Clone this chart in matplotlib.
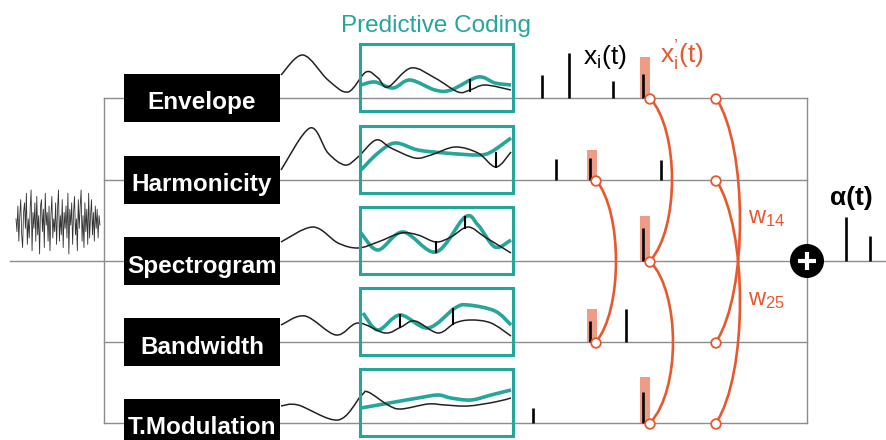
import matplotlib
matplotlib.use('Agg')
import matplotlib.pyplot as plt
import matplotlib.patches as mpatches
from matplotlib.path import Path
import numpy as np

plt.rcParams['font.family'] = ['Liberation Sans', 'DejaVu Sans']
plt.rcParams['mathtext.fontset'] = 'custom'
plt.rcParams['mathtext.rm'] = 'Liberation Sans'

TEAL = '#26a69a'
ORANGE = '#e8582e'
SALMON = '#ef9c86'
GREY = '#8c8c8c'

features = ['Envelope', 'Harmonicity', 'Spectrogram', 'Bandwidth', 'T.Modulation']
row_y = [98, 180, 261, 342, 423]

# raw sound snippet on the left
noise = [0.1, -0.3, 0.5, -0.6, 0.2, 0.7, -0.4, -0.8, 0.3, 0.6, -0.2, 0.9, -0.7, 0.1,
         -0.5, 0.4, 1.0, -0.9, 0.3, -0.2, 0.6, -0.6, 0.8, -0.4, 0.2, -1.0, 0.5, 0.7,
         -0.3, 0.4, -0.8, 0.9, -0.1, 0.3, -0.6, 0.5, -0.9, 0.2, 0.8, -0.5, 0.1, -0.3,
         0.6, -0.7, 0.4, 1.0, -0.6, 0.2, -0.4, 0.7, -0.8, 0.3, -0.2, 0.5, -0.5, 0.9,
         -1.0, 0.4, -0.1, 0.6, -0.7, 0.3, 0.8, -0.4, 0.1, -0.9, 0.7, -0.2, 0.5, 1.0,
         -0.6, 0.2, -0.8, 0.6, -0.3, 0.4, -0.7, 0.9, -0.5, 0.2, 0.7, -0.4, 0.3, -0.6,
         0.5, -0.2, 0.4, -0.5, 0.2, -0.1]

# feature traces: (x, height above the row line)
trace_black = [
    [(281, -23), (303, -43), (328, -18), (348, -6), (366, -26), (378, -20), (388, -11),
     (411, -30), (435, -20), (458, -6), (470, -8), (485, -13), (511, -8)],
    [(281, -10), (310, -52), (328, -27), (345, -15), (358, -23), (376, -40), (391, -32),
     (415, -22), (431, -25), (455, -33), (478, -27), (496, -13), (511, -28)],
    [(281, -19), (313, -34), (338, -18), (358, -13), (378, -19), (401, -28), (418, -26),
     (436, -19), (451, -24), (468, -34), (485, -24), (511, -8)],
    [(281, -17), (305, -26), (336, -7), (358, -19), (385, -9), (401, -15), (415, -21),
     (438, -9), (455, -19), (471, -22), (491, -19), (511, -6)],
    [(281, -17), (298, -18), (338, -3), (361, -27), (368, -31), (388, -18), (401, -14),
     (428, -19), (445, -18), (468, -17), (495, -21), (511, -25)],
]
trace_teal = [
    [(361, -13), (375, -16), (393, -10), (410, -18), (435, -8), (451, -8), (478, -21),
     (495, -15), (511, -13)],
    [(361, -10), (378, -27), (395, -37), (418, -30), (445, -27), (478, -25), (491, -28),
     (511, -42)],
    [(361, -28), (378, -11), (403, -29), (436, -9), (465, -44), (478, -36), (495, -14),
     (511, -21)],
    [(363, -29), (378, -12), (400, -27), (428, -14), (455, -34), (468, -37), (495, -31),
     (511, -17)],
    [(361, -15), (395, -21), (418, -25), (438, -28), (451, -25), (471, -23), (491, -28),
     (511, -33)],
]
# prediction errors: row, x, teal level, black level
err_row = [0, 1, 2, 2, 3, 3]
err_x = [470, 496, 436, 465, 400, 453]
err_top = [-18, -27, -19, -44, -27, -33]
err_bot = [-7, -13, -9, -33, -15, -18]

# x_i(t) events
spike_row = [0, 0, 0, 0, 1, 1, 1, 2, 3, 3, 4, 4]
spike_x = [542, 569, 613, 643, 556, 590, 661, 643, 590, 626, 533, 643]
spike_h = [23, 45, 17, 24, 21, 22, 20, 33, 21, 33, 15, 31]
# x_i'(t) boosted events
boost_row = [0, 1, 2, 3, 4]
boost_x = [643, 590, 643, 590, 643]
boost_h = [41, 30, 45, 33, 46]

# interaction nodes and links
node_cols = [596, 650, 716]
node_rows = [[1, 3], [0, 2, 4], [0, 1, 3, 4]]
link_col = [0, 1, 1, 2, 2]
link_from = [1, 0, 2, 0, 1]
link_to = [3, 2, 4, 3, 4]
link_bulge = [20, 22, 23, 24, 24]

# alpha(t) output
alpha_x = [846, 870]
alpha_h = [44, 25]


def smooth_path(pts):
    pts = np.asarray(pts, float)
    ext = np.vstack([pts[0], pts, pts[-1]])
    verts = [pts[0]]
    codes = [Path.MOVETO]
    for i in range(len(pts) - 1):
        p0, p1, p2, p3 = ext[i], ext[i + 1], ext[i + 2], ext[i + 3]
        verts += [p1 + (p2 - p0) / 6, p2 - (p3 - p1) / 6, p2]
        codes += [Path.CURVE4] * 3
    return Path(verts, codes)


fig = plt.figure(figsize=(8.87, 4.40), dpi=100)
ax = fig.add_axes([0, 0, 1, 1])
ax.set_xlim(0, 887)
ax.set_ylim(440, 0)
ax.axis('off')

# wiring
for i, y in enumerate(row_y):
    if features[i] == 'Spectrogram':
        ax.plot([10, 887], [y, y], color=GREY, lw=1.0, zorder=1)
    else:
        ax.plot([104, 807], [y, y], color=GREY, lw=1.0, zorder=1)
ax.plot([104, 104], [row_y[0], row_y[-1]], color=GREY, lw=1.0, zorder=1)
ax.plot([807, 807], [row_y[0], row_y[-1]], color=GREY, lw=1.0, zorder=1)

# sound
nx = np.linspace(16, 100, len(noise))
ax.plot(nx, 222 - 32 * np.array(noise), color='#333333', lw=0.6, zorder=2)

# feature boxes and traces
for i, y in enumerate(row_y):
    ax.add_patch(mpatches.Rectangle((124, y - 24), 156, 48, fc='black', ec='none', zorder=6))
    ax.text(202, y + 11.5, features[i], color='white', fontsize=17.5, fontweight='bold',
            ha='center', va='baseline', zorder=7)
    ax.add_patch(mpatches.Rectangle((360, y - 54), 153, 67, fill=False, ec=TEAL, lw=2.2,
                                    zorder=5))
    pb = [(x, y + d) for x, d in trace_black[i]]
    pt = [(x, y + d) for x, d in trace_teal[i]]
    ax.add_patch(mpatches.PathPatch(smooth_path(pt), fill=False, ec=TEAL, lw=2.6, zorder=3))
    ax.add_patch(mpatches.PathPatch(smooth_path(pb), fill=False, ec='#222222', lw=1.1,
                                    zorder=4))

for r, x, t, b in zip(err_row, err_x, err_top, err_bot):
    ax.plot([x, x], [row_y[r] + t, row_y[r] + b], color='black', lw=1.5, zorder=4)

ax.text(436, 32, 'Predictive Coding', color=TEAL, fontsize=17.5, ha='center', va='baseline')

# events
for r, x, h in zip(boost_row, boost_x, boost_h):
    ax.add_patch(mpatches.Rectangle((x - 3, row_y[r] - h), 10, h, fc=SALMON, ec='none',
                                    zorder=2))
for r, x, h in zip(spike_row, spike_x, spike_h):
    ax.plot([x, x], [row_y[r], row_y[r] - h], color='black', lw=1.9, zorder=3,
            solid_capstyle='butt')

ax.text(583, 64, r'$\mathregular{x_i(t)}$', fontsize=19, va='baseline')
ax.text(660, 64, '$\\mathregular{x_i^{\u2019}(t)}$', fontsize=19, color=ORANGE,
        va='baseline')

# links between features
for c, a, b, bulge in zip(link_col, link_from, link_to, link_bulge):
    x0 = node_cols[c]
    y0, y1 = row_y[a], row_y[b]
    h = y1 - y0
    k = bulge / 0.75
    path = Path([(x0, y0), (x0 + k, y0 + 0.2 * h), (x0 + k, y1 - 0.2 * h), (x0, y1)],
                [Path.MOVETO, Path.CURVE4, Path.CURVE4, Path.CURVE4])
    ax.add_patch(mpatches.PathPatch(path, fill=False, ec=ORANGE, lw=1.9, zorder=7))
for c, rows in zip(node_cols, node_rows):
    for r in rows:
        ax.add_patch(mpatches.Circle((c, row_y[r] + 1), 4.8, fc='white', ec=ORANGE, lw=1.3,
                                     zorder=8))

ax.text(748, 223, r'$\mathregular{w_{14}}$', fontsize=17, color=ORANGE, va='baseline')
ax.text(748, 305, r'$\mathregular{w_{25}}$', fontsize=17, color=ORANGE, va='baseline')

# summation and output
ax.add_patch(mpatches.Circle((807, 261), 17, fc='black', ec='none', zorder=8))
ax.plot([798, 816], [261, 261], color='white', lw=3, zorder=9, solid_capstyle='butt')
ax.plot([807, 807], [252, 270], color='white', lw=3, zorder=9, solid_capstyle='butt')
for x, h in zip(alpha_x, alpha_h):
    ax.plot([x, x], [row_y[2], row_y[2] - h], color='black', lw=1.9, zorder=3,
            solid_capstyle='butt')
ax.text(830, 205, 'α(t)', fontsize=19, fontweight='bold', va='baseline')

fig.savefig('out.png', dpi=100)
